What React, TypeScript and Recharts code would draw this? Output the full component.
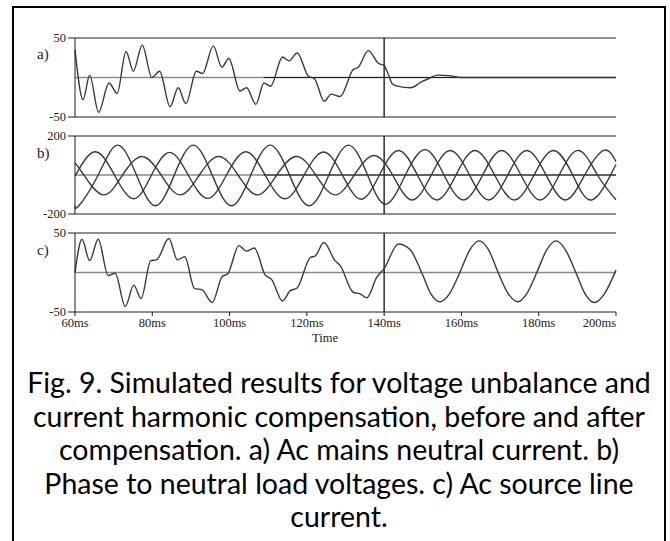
import { Line, LineChart, ReferenceLine, XAxis, YAxis } from "recharts";

const timeTicks = [60, 80, 100, 120, 140, 160, 180, 200];

// a) ac mains neutral current (A)
const neutralTime = [
  60, 62.1, 63.8, 66.1, 68.8, 70.9, 73.2, 75.1, 77.4, 79.9, 81.9, 84.6, 86.7, 88.7, 91.4, 93.0, 95.8, 98.0, 99.8,
  102.7, 104.4, 106.8, 108.9, 110.6, 113.7, 115.4, 117.5, 120.5, 121.9, 124.5, 126.3, 128.6, 132.0, 133.3, 135.9,
  138.5, 140.0, 141.0, 142.1, 143.4, 146.9, 149.5, 152.1, 153.8, 157.3, 159.8, 200,
];
const neutralCurrent = [
  35, -28, 3, -44, -7, -20, 33, 8, 41, 0, 8, -37, -13, -33, 8, 5, 40, 13, 24, -17, -13, -34, -7, -11, 26, 21, 31, 1,
  -1, -30, -21, -24, 10, 13, 34, 18, 15, 5, -8, -11, -13, -6, 0, 3, 2, 0, 0,
];

// b) phase to neutral load voltages (V)
const phaseATime = [
  60, 65.2, 70.2, 75.2, 79.8, 84.5, 89.3, 94.3, 99.2, 104.2, 109.2, 114.3, 119.3, 124.3, 129.2, 134.0, 138.8, 143.7,
  148.6, 153.6, 158.6, 163.5, 168.6, 173.7, 178.8, 183.8, 188.8, 193.7, 198.6, 200,
];
const phaseAVolt = [
  -6, 119, 0, -122, 0, 116, 0, -120, 0, 119, 0, -122, 0, 118, 0, -124, 0, 126, 0, -128, 0, 126, 0, -128, 0, 126, 0,
  -128, 0, 54,
];
const phaseBTime = [
  60, 61.0, 66.0, 71.0, 75.9, 80.8, 85.7, 90.6, 95.5, 100.5, 105.5, 110.5, 115.5, 120.6, 125.7, 130.8, 135.7, 140.4,
  145.5, 150.6, 155.5, 160.5, 165.5, 170.4, 175.4, 180.4, 185.3, 190.3, 195.2, 200,
];
const phaseBVolt = [
  -156, -158, 0, 153, 0, -158, 0, 153, 0, -158, 0, 153, 0, -158, 0, 153, 0, -150, 0, 130, 0, -128, 0, 126, 0, -128,
  0, 126, 0, -127,
];
const phaseCTime = [
  60, 62.3, 67.3, 72.3, 77.3, 82.3, 87.2, 92.2, 97.2, 102.2, 107.2, 112.2, 117.3, 122.3, 127.3, 132.3, 137.3, 142.2,
  147.2, 152.2, 157.1, 162.1, 167.0, 172.0, 176.9, 181.9, 186.9, 191.9, 196.8, 200,
];
const phaseCVolt = [
  62, 0, -102, 0, 95, 0, -102, 0, 95, 0, -102, 0, 95, 0, -102, 0, 100, 0, -128, 0, 126, 0, -128, 0, 126, 0, -128, 0,
  126, 68,
];

// c) ac source line current (A)
const sourceTime = [
  60, 61.8, 63.8, 66.0, 68.6, 70.4, 73.0, 75.2, 77.1, 79.6, 81.1, 84.3, 86.5, 88.4, 90.9, 92.9, 95.5, 98.1, 99.5,
  102.4, 104.4, 106.4, 109.2, 110.9, 113.7, 115.7, 117.4, 120.9, 122.2, 124.4, 127.3, 128.6, 132.0, 133.8, 135.5,
  138.1, 140.0, 143.7, 146.7, 149.7, 152.1, 154.4, 156.9, 159.6, 162.1, 164.6, 167.1, 169.5, 172.0, 174.6, 177.0,
  179.5, 182.0, 184.5, 187.0, 189.6, 192.0, 194.4, 197.0, 200,
];
const sourceCurrent = [
  0, 42, 15, 42, -4, -1, -43, -16, -33, 15, 16, 43, 16, 20, -20, -22, -38, -5, -2, 34, 27, 31, -3, -9, -36, -23, -20,
  19, 21, 38, 15, 9, -25, -27, -32, -6, 5, 36, 29, 0, -27, -37, -27, 0, 28, 40, 28, 0, -26, -37, -26, 0, 28, 40, 28,
  0, -27, -38, -27, 3,
];

const captionLines = [
  "Fig. 9. Simulated results for voltage unbalance and",
  "current harmonic compensation, before and after",
  "compensation. a) Ac mains neutral current. b)",
  "Phase to neutral load voltages. c) Ac source line",
  "current.",
];

const toPoints = (t: number[], v: number[]) => t.map((time, i) => ({ time, value: v[i] }));

const AXIS = "#1e1e1e";
const TRACE = "#3a3a3a";
const SERIF = '"Liberation Serif", "Times New Roman", serif';

function TimeTick({ x, y, payload }: any) {
  const last = payload.value === 200;
  return (
    <text x={x} y={y} dy={9} textAnchor={last ? "end" : "middle"} fontSize={12.5} fontFamily={SERIF} fill="#222">
      {payload.value}ms
    </text>
  );
}

interface Trace {
  t: number[];
  v: number[];
  curve: "monotone" | "natural";
}

interface PanelProps {
  top: number;
  plotHeight: number;
  limit: number;
  traces: Trace[];
  darkZeroFrom?: number;
  timeLabels?: boolean;
}

function Panel({ top, plotHeight, limit, traces, darkZeroFrom, timeLabels }: PanelProps) {
  const bottomAxis = timeLabels ? 30 : 4;
  return (
    <div style={{ position: "absolute", left: 0, top: top - 12 }}>
      <LineChart width={670} height={12 + plotHeight + bottomAxis + 6} margin={{ top: 8, right: 54, bottom: 6, left: 0 }}>
        <XAxis
          xAxisId="top"
          orientation="top"
          type="number"
          dataKey="time"
          domain={[60, 200]}
          ticks={timeTicks}
          height={4}
          tickSize={4}
          tick={false}
          stroke={AXIS}
        />
        <XAxis
          type="number"
          dataKey="time"
          domain={[60, 200]}
          ticks={timeTicks}
          height={bottomAxis}
          tickSize={4}
          tick={timeLabels ? <TimeTick /> : false}
          stroke={AXIS}
        />
        <YAxis
          type="number"
          domain={[-limit, limit]}
          ticks={[-limit, limit]}
          width={75}
          tickSize={7}
          tick={{ fontSize: 12.5, fontFamily: SERIF, fill: "#222" }}
          stroke={AXIS}
        />
        <YAxis yAxisId="right" orientation="right" width={0} tick={false} tickLine={false} stroke={AXIS} />
        <ReferenceLine y={0} stroke="#8a8a8a" strokeWidth={1.4} />
        {darkZeroFrom !== undefined && (
          <ReferenceLine segment={[{ x: darkZeroFrom, y: 0 }, { x: 200, y: 0 }]} stroke={AXIS} strokeWidth={1.2} />
        )}
        <ReferenceLine x={140} stroke={AXIS} strokeWidth={1.4} />
        {traces.map((tr, i) => (
          <Line
            key={i}
            data={toPoints(tr.t, tr.v)}
            dataKey="value"
            type={tr.curve}
            dot={false}
            stroke={TRACE}
            strokeWidth={1.4}
            isAnimationActive={false}
          />
        ))}
      </LineChart>
    </div>
  );
}

const panelLabel = (text: string, top: number) => (
  <div style={{ position: "absolute", left: 37, top, fontFamily: SERIF, fontSize: 15, lineHeight: "15px", color: "#222" }}>
    {text}
  </div>
);

export default function App() {
  return (
    <div style={{ position: "absolute", left: 0, top: 0, width: 670, height: 541, overflow: "hidden", background: "#fff" }}>
      <div
        style={{
          position: "absolute",
          left: 12,
          top: 6,
          width: 654,
          height: 560,
          border: "2px solid #000",
          boxSizing: "border-box",
        }}
      />
      <Panel
        top={38}
        plotHeight={79}
        limit={50}
        darkZeroFrom={108.8}
        traces={[{ t: neutralTime, v: neutralCurrent, curve: "monotone" }]}
      />
      <Panel
        top={136}
        plotHeight={78}
        limit={200}
        darkZeroFrom={108.8}
        traces={[
          { t: phaseATime, v: phaseAVolt, curve: "natural" },
          { t: phaseBTime, v: phaseBVolt, curve: "natural" },
          { t: phaseCTime, v: phaseCVolt, curve: "natural" },
        ]}
      />
      <Panel
        top={233}
        plotHeight={79}
        limit={50}
        timeLabels
        traces={[{ t: sourceTime, v: sourceCurrent, curve: "monotone" }]}
      />
      {panelLabel("a)", 47)}
      {panelLabel("b)", 146)}
      {panelLabel("c)", 243)}
      <div style={{ position: "absolute", left: 312, top: 332, fontFamily: SERIF, fontSize: 12.5, lineHeight: "12px", color: "#222" }}>
        Time
      </div>
      <div
        style={{
          position: "absolute",
          left: 14,
          top: 366,
          width: 650,
          textAlign: "center",
          fontFamily: "Lato, 'Open Sans', sans-serif",
          fontSize: 28.5,
          lineHeight: "33.5px",
          color: "#000",
          whiteSpace: "nowrap",
        }}
      >
        {captionLines.map((line) => (
          <div key={line}>{line}</div>
        ))}
      </div>
    </div>
  );
}
